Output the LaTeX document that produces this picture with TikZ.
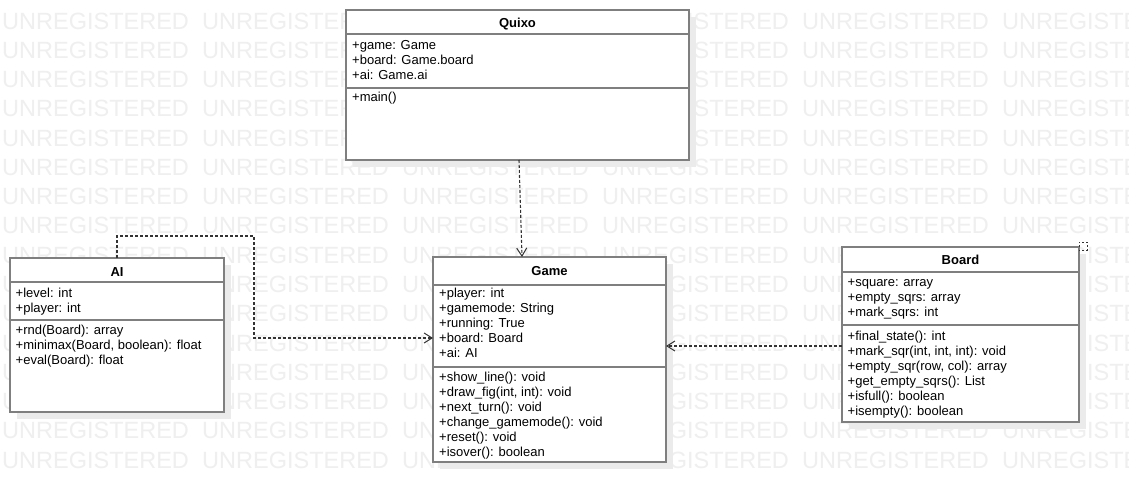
\documentclass[tikz,border=0pt]{standalone}
\usepackage{fontspec}
\setmainfont{Liberation Sans}
\usetikzlibrary{arrows.meta,shadows}
\definecolor{bordergray}{HTML}{7F7F7F}
\definecolor{wmgray}{HTML}{EFEFEF}
\definecolor{shgray}{HTML}{EBEBEB}
\definecolor{linegray}{HTML}{333333}
\begin{document}
\begin{tikzpicture}[x=1pt,y=-1pt,
 umlbox/.style={draw=bordergray,line width=2pt,fill=white,inner sep=0pt,outer sep=0pt,
   drop shadow={shadow xshift=7pt,shadow yshift=-7pt,fill=shgray,opacity=1}},
 sepline/.style={draw=bordergray,line width=2pt},
 title/.style={font=\fontsize{13}{15}\selectfont\bfseries,anchor=base,inner sep=0pt},
 member/.style={font=\fontsize{13}{15}\selectfont,anchor=base west,inner sep=0pt},
 dep/.style={draw=linegray,line width=1.1pt,dash pattern=on 3pt off 2pt,-{Straight Barb[length=8pt,width=10pt,line width=1pt]}},
 selfdep/.style={draw=linegray,line width=1pt,dash pattern=on 2pt off 2pt},
 wm/.style={font=\fontsize{23.5}{25}\selectfont,text=wmgray,anchor=west,inner sep=0pt}]
\useasboundingbox (0,0) rectangle (1129,503);
\fill[white] (0,0) rectangle (1129,503);
% watermark
\begin{scope}
\clip (0,0) rectangle (1129,503);
\foreach \r in {0,...,15}{
  \foreach \k in {0,...,5}{
    \node[wm] (wm-\r-\k) at ({2+200*\k},{21+29.27*\r}) {UNREGISTERED};
  }
}
\end{scope}
% Quixo
\node[umlbox,minimum width=343pt,minimum height=150pt] (quixo) at (517.5,85) {};
\draw[sepline] (346,34.5) -- (689,34.5);
\draw[sepline] (346,88) -- (689,88);
\node[title] (quixo-t) at (517.5,27.6) {Quixo};
\node[member] (q-a1) at (352,49.5) {+game: Game};
\node[member] (q-a2) at (352,64.5) {+board: Game.board};
\node[member] (q-a3) at (352,79.5) {+ai: Game.ai};
\node[member] (q-m1) at (352,101.5) {+main()};
% AI
\node[umlbox,minimum width=214pt,minimum height=154pt] (ai) at (117,335) {};
\draw[sepline] (10,282.3) -- (224,282.3);
\draw[sepline] (10,320) -- (224,320);
\node[title] (ai-t) at (117,276.7) {AI};
\node[member] (ai-a1) at (15.5,297) {+level: int};
\node[member] (ai-a2) at (15.5,312) {+player: int};
\node[member] (ai-m1) at (15.5,334) {+rnd(Board): array};
\node[member] (ai-m2) at (15.5,349) {+minimax(Board, boolean): float};
\node[member] (ai-m3) at (15.5,364) {+eval(Board): float};
% Game
\node[umlbox,minimum width=233pt,minimum height=205pt] (game) at (549.5,359.5) {};
\draw[sepline] (433,285) -- (666,285);
\draw[sepline] (433,367) -- (666,367);
\node[title] (game-t) at (549.5,275.7) {Game};
\node[member] (g-a1) at (439,297) {+player: int};
\node[member] (g-a2) at (439,312) {+gamemode: String};
\node[member] (g-a3) at (439,327) {+running: True};
\node[member] (g-a4) at (439,342) {+board: Board};
\node[member] (g-a5) at (439,357) {+ai: AI};
\node[member] (g-m1) at (439,381) {+show\_line(): void};
\node[member] (g-m2) at (439,396) {+draw\_fig(int, int): void};
\node[member] (g-m3) at (439,411) {+next\_turn(): void};
\node[member] (g-m4) at (439,426) {+change\_gamemode(): void};
\node[member] (g-m5) at (439,441) {+reset(): void};
\node[member] (g-m6) at (439,456) {+isover(): boolean};
% Board
\node[umlbox,minimum width=237pt,minimum height=175pt] (board) at (960.5,334.5) {};
\draw[sepline] (842,272) -- (1079,272);
\draw[sepline] (842,325) -- (1079,325);
\node[title] (board-t) at (960.5,264) {Board};
\node[member] (b-a1) at (847.5,286.5) {+square: array};
\node[member] (b-a2) at (847.5,301.5) {+empty\_sqrs: array};
\node[member] (b-a3) at (847.5,316.5) {+mark\_sqrs: int};
\node[member] (b-m1) at (847.5,340) {+final\_state(): int};
\node[member] (b-m2) at (847.5,355) {+mark\_sqr(int, int, int): void};
\node[member] (b-m3) at (847.5,370) {+empty\_sqr(row, col): array};
\node[member] (b-m4) at (847.5,385) {+get\_empty\_sqrs(): List};
\node[member] (b-m5) at (847.5,400) {+isfull(): boolean};
\node[member] (b-m6) at (847.5,415) {+isempty(): boolean};
% connectors
\coordinate (aibend) at (254,236);
\draw[dep] ([xshift=1.5pt]quixo.south) -- ([xshift=-27.5pt]game.north);
\draw[dep] (ai.north) |- (aibend) |- ([yshift=21.5pt]game.west);
\draw[dep] ([yshift=-11.5pt]board.west) -- ([yshift=13.5pt]game.east);
\draw[selfdep] (board.north east) -- ++(0,-5) -- ++(8,0) -- ++(0,8) -- ++(-8,0);
\end{tikzpicture}
\end{document}
